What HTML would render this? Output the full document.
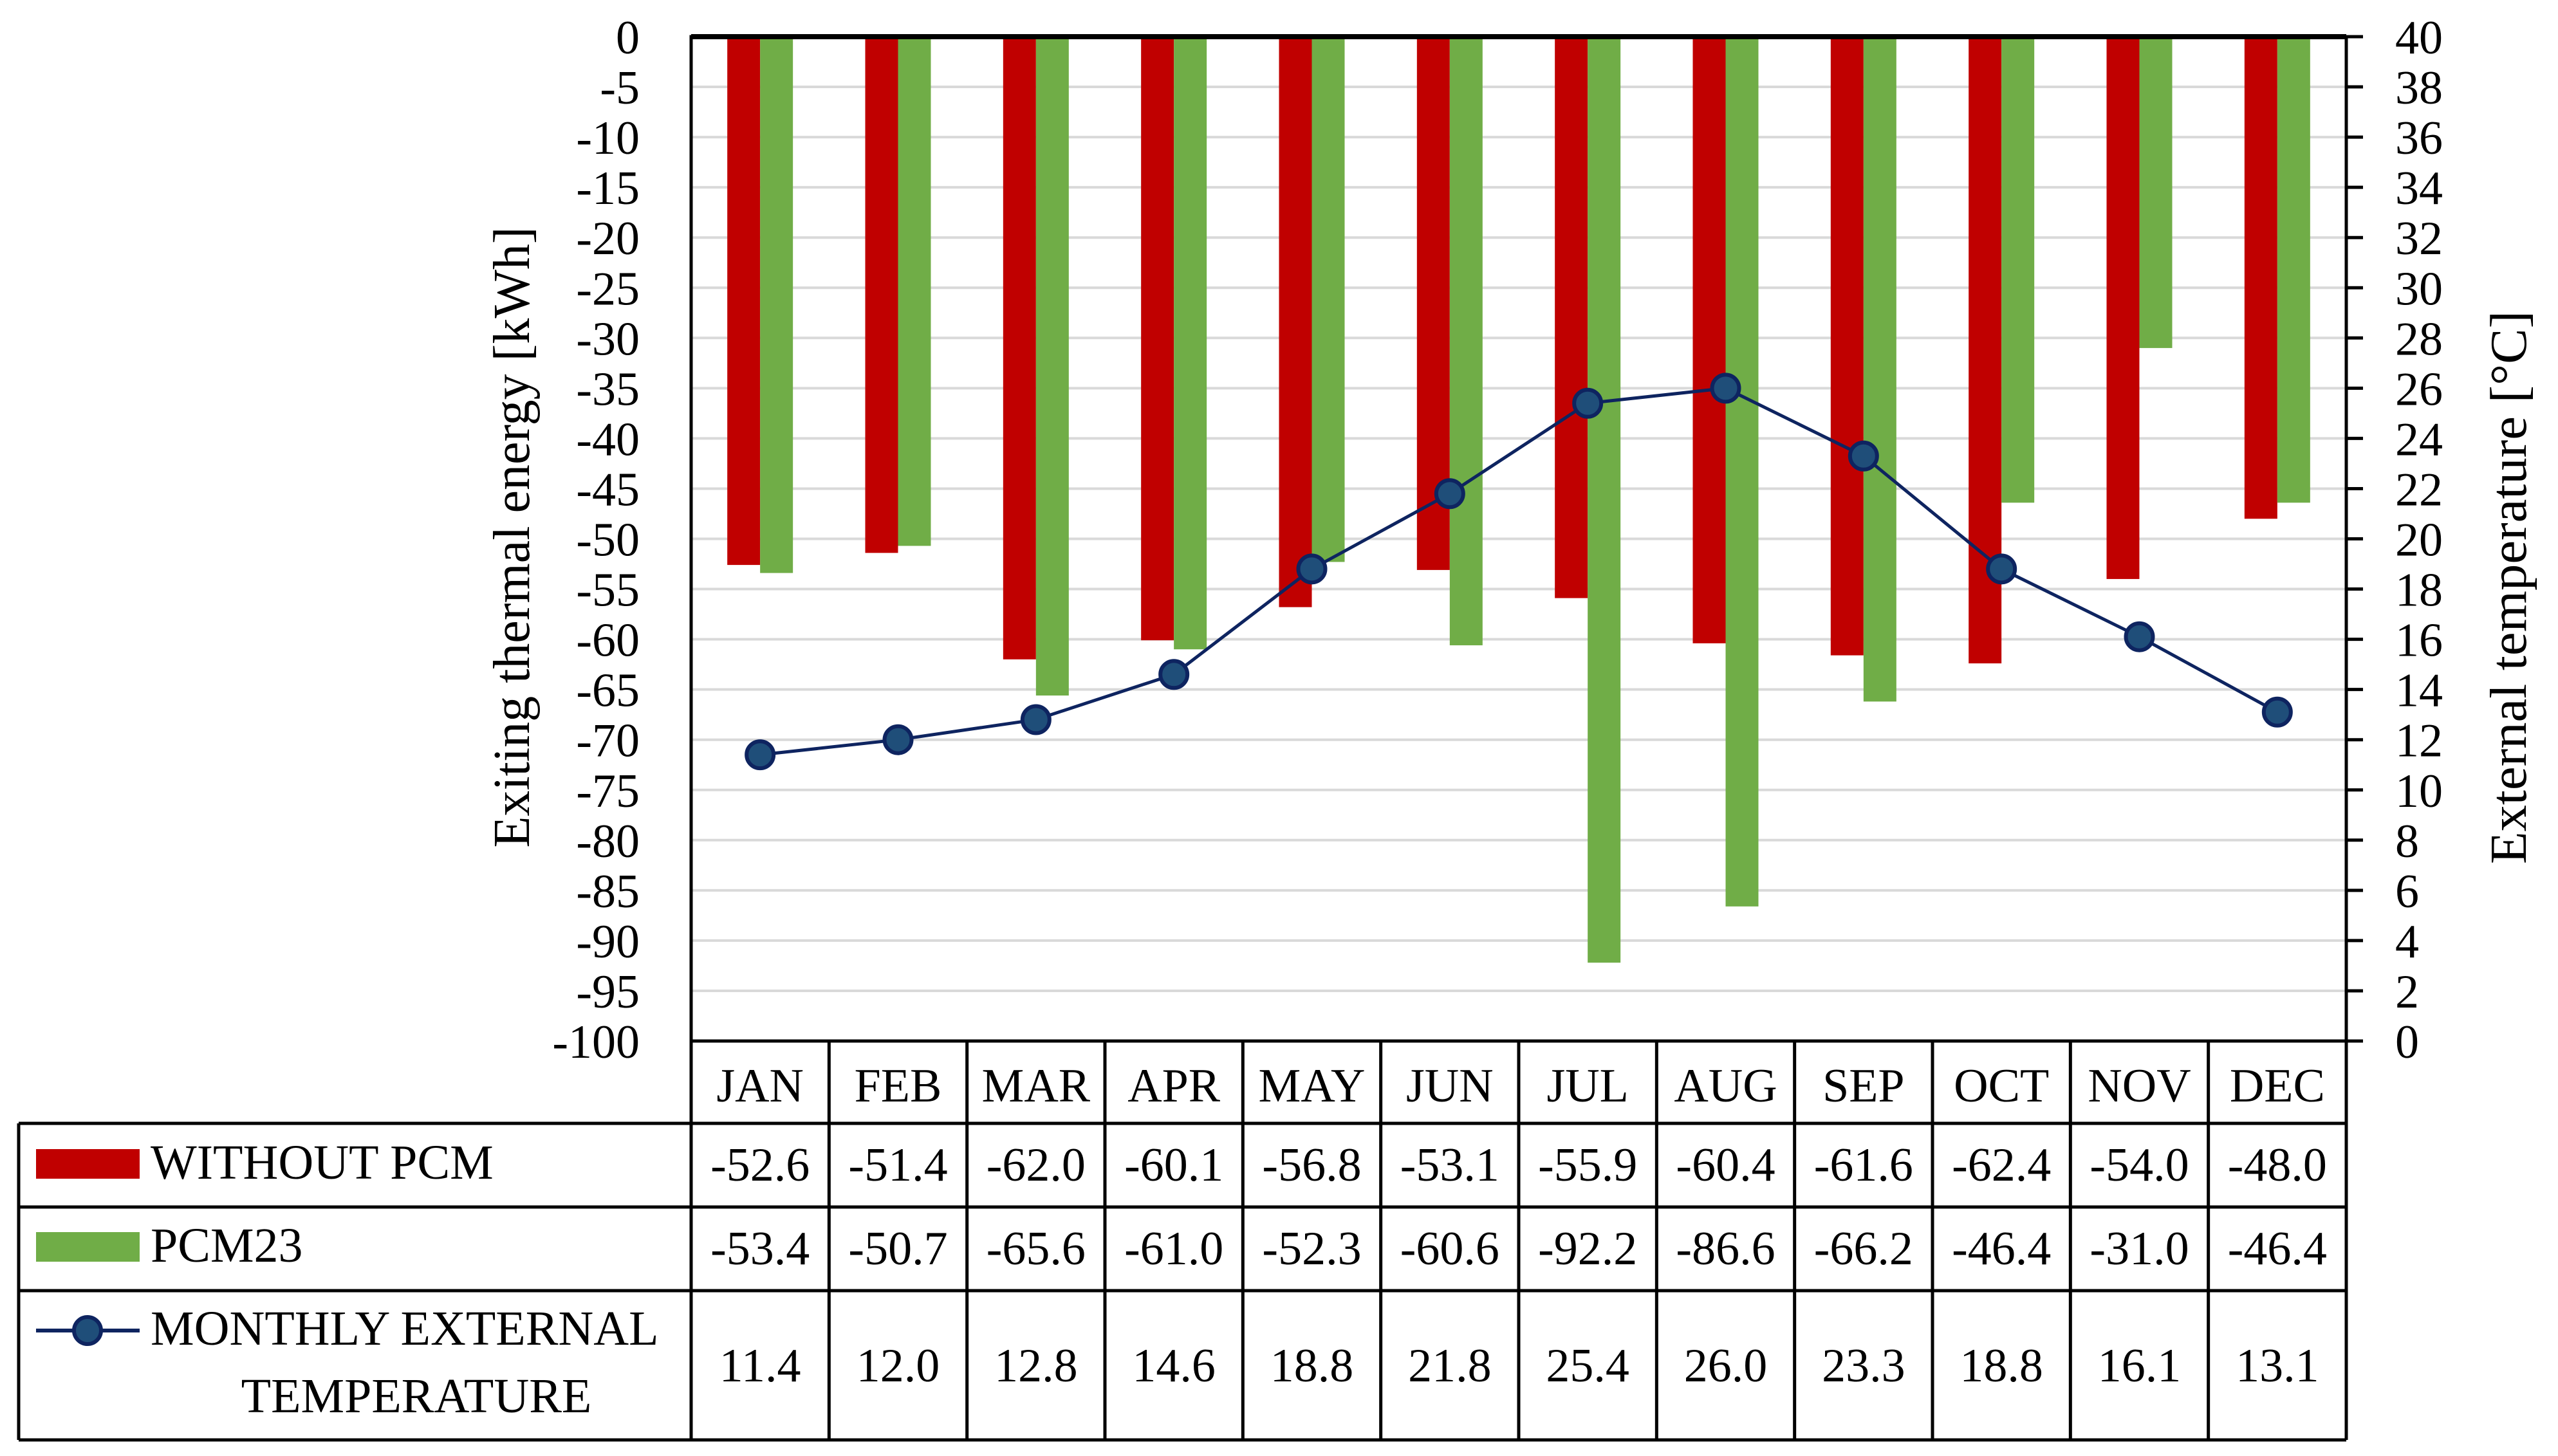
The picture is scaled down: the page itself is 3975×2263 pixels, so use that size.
<!DOCTYPE html>
<html><head><meta charset="utf-8"><style>
html,body{margin:0;padding:0;background:#fff;}
svg{display:block;font-family:"Liberation Serif",serif;}
</style></head><body>
<svg id="chart" width="3975" height="2263" viewBox="0 0 3975 2263" xmlns="http://www.w3.org/2000/svg">
<g id="grid"></g>
<g id="bars"></g>
<g id="line"></g>
<g id="axes"></g>
<g id="table"></g>
<text transform="translate(822,835) rotate(-90)" text-anchor="middle" font-size="80" textLength="965" lengthAdjust="spacingAndGlyphs">Exiting thermal energy [kWh]</text>
<text transform="translate(3925,913) rotate(-90)" text-anchor="middle" font-size="80" textLength="860" lengthAdjust="spacingAndGlyphs">External temperature [°C]</text>
</svg>
<script>
const months = ["JAN","FEB","MAR","APR","MAY","JUN","JUL","AUG","SEP","OCT","NOV","DEC"];
const withoutPcm = [-52.6,-51.4,-62.0,-60.1,-56.8,-53.1,-55.9,-60.4,-61.6,-62.4,-54.0,-48.0];
const pcm23 = [-53.4,-50.7,-65.6,-61.0,-52.3,-60.6,-92.2,-86.6,-66.2,-46.4,-31.0,-46.4];
const temperature = [11.4,12.0,12.8,14.6,18.8,21.8,25.4,26.0,23.3,18.8,16.1,13.1];
const leftTicks = [0,-5,-10,-15,-20,-25,-30,-35,-40,-45,-50,-55,-60,-65,-70,-75,-80,-85,-90,-95,-100];
const rightTicks = [0,2,4,6,8,10,12,14,16,18,20,22,24,26,28,30,32,34,36,38,40];

const NS="http://www.w3.org/2000/svg";
const X0=1074, X1=3646, Y0=57, Y1=1618;
const colW=(X1-X0)/months.length;
const yL=v=>Y0+(0-v)/100*(Y1-Y0);
const yR=v=>Y1-v/40*(Y1-Y0);
const xC=i=>X0+colW*(i+0.5);
function mk(tag,attrs,parent,text){const e=document.createElementNS(NS,tag);for(const k in attrs)e.setAttribute(k,attrs[k]);if(text!==undefined)e.textContent=text;parent.appendChild(e);return e;}
const grid=document.getElementById('grid'),bars=document.getElementById('bars'),line=document.getElementById('line'),axes=document.getElementById('axes'),table=document.getElementById('table');

leftTicks.forEach(t=>{
  const g=mk('line',{x1:X0,x2:X1,y1:yL(t),y2:yL(t),stroke:'#d9d9d9','stroke-width':4},grid);
  
  
  const l=mk('text',{x:994,y:yL(t)+26,'text-anchor':'end','font-size':74},axes,String(t));
  
  
});
rightTicks.forEach(t=>{
  const tk=mk('line',{x1:X1,x2:X1+26,y1:yR(t),y2:yR(t),stroke:'#000','stroke-width':5},axes);
  
  
  const l=mk('text',{x:3722,y:yR(t)+26,'text-anchor':'start','font-size':74},axes,String(t));
  
  
});
const bw=51;
months.forEach((m,i)=>{
  const c=xC(i);
  const r=mk('rect',{x:c-bw,y:Y0,width:bw,height:yL(withoutPcm[i])-Y0,fill:'#c00000'},bars);
  
  
  const g=mk('rect',{x:c,y:Y0,width:bw,height:yL(pcm23[i])-Y0,fill:'#70ad47'},bars);
  
  
});
const pl=mk('polyline',{points:temperature.map((v,i)=>xC(i)+','+yR(v)).join(' '),fill:'none',stroke:'#0e2460','stroke-width':5},line);


temperature.forEach((v,i)=>{
  const c=mk('circle',{cx:xC(i),cy:yR(v),r:21,fill:'#1f4e79',stroke:'#0e2460','stroke-width':6},line);
  
  
});
const fr=mk('rect',{x:X0,y:Y0,width:X1-X0,height:Y1-Y0,fill:'none',stroke:'#000','stroke-width':5},axes);


const tp=mk('line',{x1:X0,x2:X1,y1:Y0,y2:Y0,stroke:'#000','stroke-width':8},axes);



const TL=29, rows=[Y1,1746,1876,2006,2238];
const hl=(x1,x2,y)=>{const e=mk('line',{x1:x1,x2:x2,y1:y,y2:y,stroke:'#000','stroke-width':5},table);};
hl(X0,X1,rows[0]);[1,2,3,4].forEach(k=>hl(TL,X1,rows[k]));
const vl=(x,y1,y2)=>{const e=mk('line',{x1:x,x2:x,y1:y1,y2:y2,stroke:'#000','stroke-width':5},table);};
vl(TL,rows[1],rows[4]);
for(let i=0;i<=months.length;i++)vl(X0+colW*i,rows[0],rows[4]);
months.forEach((m,i)=>{
  const c=xC(i);
  const h=mk('text',{x:c,y:1712,'text-anchor':'middle','font-size':74},table,m);
  
  
  const a=mk('text',{x:c,y:1835,'text-anchor':'middle','font-size':74},table,withoutPcm[i].toFixed(1));
  
  
  const b=mk('text',{x:c,y:1965,'text-anchor':'middle','font-size':74},table,pcm23[i].toFixed(1));
  
  
  const t=mk('text',{x:c,y:2147,'text-anchor':'middle','font-size':74},table,temperature[i].toFixed(1));
  
  
});
const s1=mk('rect',{x:56,y:1786,width:161,height:46,fill:'#c00000'},table);


const t1=mk('text',{x:234,y:1832,'font-size':76},table,'WITHOUT PCM');


const s2=mk('rect',{x:56,y:1915,width:161,height:46,fill:'#70ad47'},table);


const t2=mk('text',{x:234,y:1961,'font-size':76},table,'PCM23');


const s3=mk('line',{x1:56,x2:217,y1:2068,y2:2068,stroke:'#0e2460','stroke-width':6},table);


const s4=mk('circle',{cx:136,cy:2068,r:21,fill:'#1f4e79',stroke:'#0e2460','stroke-width':6},table);


const t3=mk('text',{x:234,y:2090,'font-size':76},table,'MONTHLY EXTERNAL');


const t4=mk('text',{x:647,y:2195,'text-anchor':'middle','font-size':76},table,'TEMPERATURE');


</script>
</body></html>
